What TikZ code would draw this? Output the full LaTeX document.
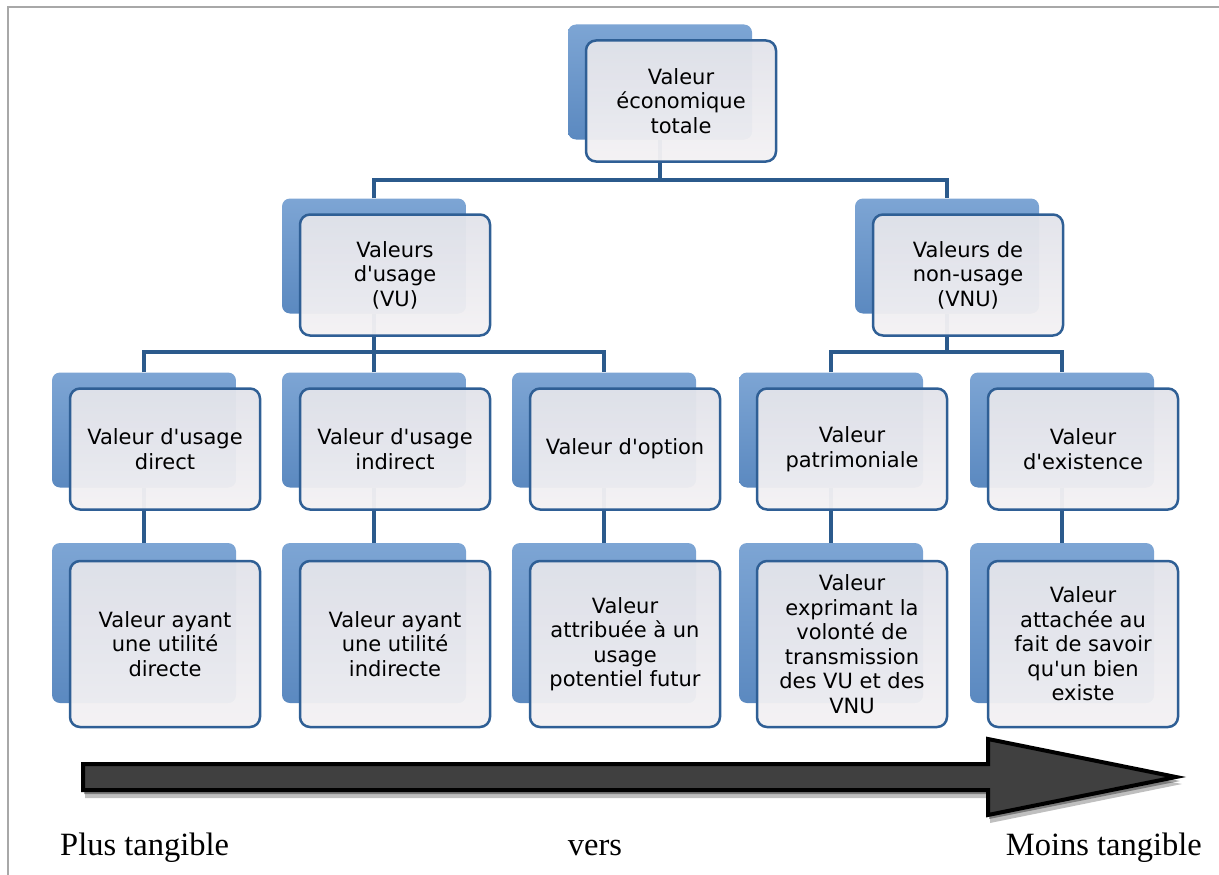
\documentclass[tikz,border=0pt]{standalone}
\usepackage{fontspec}
\newfontfamily\boxfont{DejaVu Sans}[Ligatures=TeXOff]
\newfontfamily\labelfont{Liberation Serif}
\definecolor{backtop}{HTML}{7DA5D4}
\definecolor{backbot}{HTML}{5B89C0}
\definecolor{fronttop}{HTML}{E2E3EA}
\definecolor{frontbot}{HTML}{F3F1F3}
\definecolor{boxline}{HTML}{2F5F95}
\definecolor{linkblue}{HTML}{2B5A8C}
\definecolor{arrowgray}{HTML}{404040}
\definecolor{framegray}{HTML}{A8A8A8}
\begin{document}
\begin{tikzpicture}[x=1pt,y=-1pt,
    back/.style={rectangle, rounded corners=8pt, inner sep=0pt,
      minimum width=184pt, minimum height=115pt, top color=backtop, bottom color=backbot},
    front/.style={rectangle, rounded corners=10pt, inner sep=0pt,
      minimum width=190pt, minimum height=121pt, draw=boxline, line width=2.5pt,
      top color=fronttop, bottom color=frontbot, fill opacity=0.96, text opacity=1,
      align=center, font={\boxfont\fontsize{21}{24.5}\selectfont}, shift={(21,19)}},
    tallback/.style={back, minimum height=160pt},
    tallfront/.style={front, minimum height=166pt, shift={(0,2)}},
    link/.style={draw=linkblue, line width=4.5pt},
    label/.style={font={\labelfont\fontsize{32.5}{38}\selectfont}, inner sep=0pt, anchor=base west}]
  \useasboundingbox (0,0) rectangle (1219,875);
  % frame
  \draw[framegray, line width=2pt] (8,875) -- (8,7) -- (1219,7);
  % shadow boxes
  \node[back] (vet) at (660,82) {};
  \node[back] (vu) at (374,256) {};
  \node[back] (vnu) at (947,256) {};
  \node[back] (vud) at (144,430) {};
  \node[back] (vui) at (374,430) {};
  \node[back] (vo) at (604,430) {};
  \node[back] (vp) at (831,430) {};
  \node[back] (ve) at (1062,430) {};
  \node[tallback] (dud) at (144,623) {};
  \node[tallback] (dui) at (374,623) {};
  \node[tallback] (do) at (604,623) {};
  \node[tallback] (dp) at (831,623) {};
  \node[tallback] (de) at (1062,623) {};
  % links
  \coordinate (bus1) at (0,180);
  \coordinate (bus2) at (0,352);
  \draw[link] (vet.south) -- (vet.south |- bus1);
  \draw[link] (vu.north) |- (vnu.north |- bus1) -- (vnu.north);
  \draw[link] (vu.south) -- (vu.south |- bus2);
  \draw[link] (vud.north) |- (vo.north |- bus2) -- (vo.north);
  \draw[link] (vui.north) -- (vui.north |- bus2);
  \draw[link] (vnu.south) -- (vnu.south |- bus2);
  \draw[link] (vp.north) |- (ve.north |- bus2) -- (ve.north);
  \draw[link] (vud.south) -- (dud.north);
  \draw[link] (vui.south) -- (dui.north);
  \draw[link] (vo.south) -- (do.north);
  \draw[link] (vp.south) -- (dp.north);
  \draw[link] (ve.south) -- (de.north);
  % front boxes
  \node[front] (vet-txt) at (vet) {Valeur\\économique\\totale};
  \node[front] (vu-txt) at (vu) {Valeurs\\d'usage\\(VU)};
  \node[front] (vnu-txt) at (vnu) {Valeurs de\\non-usage\\(VNU)};
  \node[front] (vud-txt) at (vud) {Valeur d'usage\\direct};
  \node[front] (vui-txt) at (vui) {Valeur d'usage\\indirect};
  \node[front] (vo-txt) at (vo) {Valeur d'option};
  \node[front] (vp-txt) at (vp) {Valeur\\patrimoniale};
  \node[front] (ve-txt) at (ve) {Valeur\\d'existence};
  \node[tallfront] (dud-txt) at (dud) {Valeur ayant\\une utilité\\directe};
  \node[tallfront] (dui-txt) at (dui) {Valeur ayant\\une utilité\\indirecte};
  \node[tallfront] (do-txt) at (do) {Valeur\\attribuée à un\\usage\\potentiel futur};
  \node[tallfront] (dp-txt) at (dp) {Valeur\\exprimant la\\volonté de\\transmission\\des VU et des\\VNU};
  \node[tallfront] (de-txt) at (de) {Valeur\\attachée au\\fait de savoir\\qu'un bien\\existe};
  % big arrow
  \fill[black, opacity=0.25] (85,772) -- (990,772) -- (990,747) -- (1182,784) -- (990,823) -- (990,798) -- (85,798) -- cycle;
  \fill[black, opacity=0.35] (84,768) -- (989,768) -- (989,743) -- (1180,781) -- (989,819) -- (989,794) -- (84,794) -- cycle;
  \draw[black, fill=arrowgray, line width=4pt, line join=miter]
    (83,764) -- (988,764) -- (988,739) -- (1176,777) -- (988,815) -- (988,790) -- (83,790) -- cycle;
  % captions
  \node[label] (plus) at (60,855) {Plus tangible};
  \node[label, anchor=base] (vers) at (595,855) {vers};
  \node[label, anchor=base east] (moins) at (1202,855) {Moins tangible};
\end{tikzpicture}
\end{document}
